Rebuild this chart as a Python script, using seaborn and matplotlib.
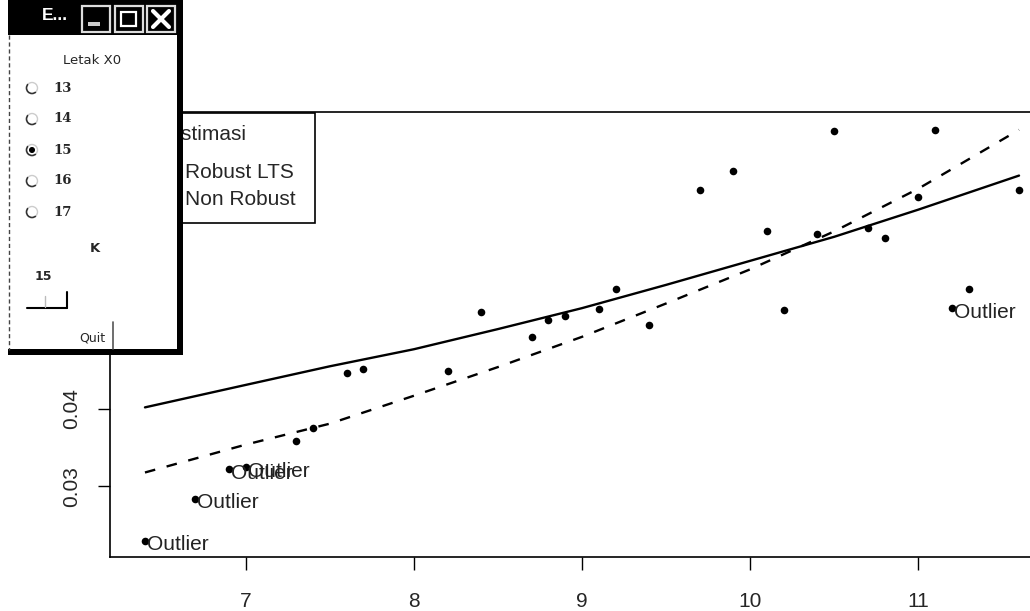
import matplotlib
matplotlib.use("Agg")
import matplotlib.pyplot as plt
import seaborn as sns
from matplotlib.patches import Rectangle, Circle, Arc
from matplotlib.lines import Line2D

# observed points
x_obs = [6.4, 6.7, 6.9, 7.0, 7.3, 7.4, 7.6, 7.7, 8.2, 8.4, 8.7, 8.8, 8.9, 9.1, 9.2,
         9.4, 9.7, 9.9, 10.1, 10.2, 10.4, 10.5, 10.7, 10.8, 11.0, 11.1, 11.2, 11.3, 11.6]
y_obs = [0.0230, 0.0284, 0.0322, 0.0325, 0.0359, 0.0375, 0.0446, 0.0452, 0.0449, 0.0525,
         0.0493, 0.0515, 0.0520, 0.0529, 0.0555, 0.0508, 0.0682, 0.0707, 0.0629, 0.0528,
         0.0626, 0.0759, 0.0633, 0.0620, 0.0674, 0.0760, 0.0530, 0.0555, 0.0682]
outlier_idx = [0, 1, 2, 3, 26]

# fitted curves
x_fit = [6.4, 7.0, 7.5, 8.0, 8.5, 9.0, 9.5, 10.0, 10.5, 11.0, 11.6]
y_lts = [0.0402, 0.0431, 0.0455, 0.0477, 0.0503, 0.0530, 0.0560, 0.0591, 0.0622, 0.0657, 0.0701]
y_ols = [0.0318, 0.0354, 0.0381, 0.0417, 0.0454, 0.0493, 0.0536, 0.0580, 0.0629, 0.0684, 0.0760]

legend_title = "Estimasi"
legend_labels = ["Robust LTS", "Non Robust"]

# little control window on top
win_title = "E..."
radio_label = "Letak X0"
radio_opts = ["13", "14", "15", "16", "17"]
radio_sel = "15"
slider_label = "K"
slider_val = "15"

sns.set_style("white")
plt.rcParams["font.family"] = ["Liberation Sans", "DejaVu Sans"]

W, H = 1030, 611
fig = plt.figure(figsize=(W / 100, H / 100), dpi=100)
ax = fig.add_axes([110 / W, (H - 557) / H, (1054 - 110) / W, (557 - 112) / H])

sns.lineplot(x=x_fit, y=y_lts, color="black", lw=1.7, ax=ax)
sns.lineplot(x=x_fit, y=y_ols, color="black", lw=1.7, linestyle=(0, (4.5, 5)), ax=ax)
sns.scatterplot(x=x_obs, y=y_obs, color="black", s=30, linewidth=0, ax=ax, zorder=3)

for i in outlier_idx:
    ax.annotate("Outlier", (x_obs[i], y_obs[i]), xytext=(1.5, -6.8),
                textcoords="offset points", ha="left", va="baseline",
                fontsize=15, color="#222222")

ax.set_xlim(6.192, 11.808)
ax.set_ylim(0.0209, 0.0783)
ax.set_xticks([7, 8, 9, 10, 11])
ax.set_xticklabels(["7", "8", "9", "10", "11"], fontsize=15)
ax.set_yticks([0.03, 0.04, 0.05, 0.06, 0.07])
ax.set_yticklabels(["0.03", "0.04", "0.05", "0.06", "0.07"], fontsize=15,
                   rotation=90, va="center")
ax.tick_params(axis="x", length=9, width=1, pad=16.5, color="black", bottom=True)
ax.tick_params(axis="y", length=9, width=1, pad=12, color="black", left=True)
for side in ["left", "bottom", "top"]:
    ax.spines[side].set_color("black")
    ax.spines[side].set_linewidth(1.2)
ax.spines["right"].set_visible(False)
ax.set_xlabel("")
ax.set_ylabel("")

# overlay in pixel coordinates
ov = fig.add_axes([0, 0, 1, 1])
ov.set_xlim(0, W)
ov.set_ylim(H, 0)
ov.axis("off")
ov.patch.set_alpha(0)

# legend box (below the window)
ov.add_patch(Rectangle((110, 113), 205, 110, facecolor="white", edgecolor="black",
                       lw=1.2, zorder=1))
ov.text(207, 140, legend_title, ha="center", va="baseline", fontsize=15, zorder=2)
ov.text(185, 178, legend_labels[0], ha="left", va="baseline", fontsize=15, zorder=2)
ov.text(185, 205, legend_labels[1], ha="left", va="baseline", fontsize=15, zorder=2)
ov.add_line(Line2D([125, 170], [172, 172], color="black", lw=1.7, zorder=2))
ov.add_line(Line2D([125, 170], [198, 198], color="black", lw=1.7,
                   linestyle=(0, (4.5, 5)), zorder=2))

# window
Z = 10
ov.add_patch(Rectangle((8, 0), 175, 355, facecolor="white", edgecolor="none", zorder=Z))
ov.add_patch(Rectangle((8, 0), 175, 35, facecolor="black", edgecolor="none", zorder=Z))
ov.add_patch(Rectangle((177, 0), 6, 355, facecolor="black", edgecolor="none", zorder=Z))
ov.add_patch(Rectangle((8, 349), 175, 6, facecolor="black", edgecolor="none", zorder=Z))
ov.add_line(Line2D([8.5, 8.5], [35, 350], color="#444444", lw=1,
                   linestyle=(0, (3, 2)), zorder=Z + 1))
ov.text(42, 15, win_title, ha="left", va="center", fontsize=12.5, color="white",
        fontweight="bold", zorder=Z + 2)
for bx in [82, 115, 147]:
    ov.add_patch(Rectangle((bx, 6), 28, 26, facecolor="black", edgecolor="#dddddd",
                           lw=1.6, zorder=Z + 1))
ov.add_patch(Rectangle((88, 22), 12, 4, facecolor="#cccccc", edgecolor="none", zorder=Z + 2))
ov.add_patch(Rectangle((121, 12), 15, 14, facecolor="none", edgecolor="white", lw=1.6,
                       zorder=Z + 2))
ov.add_line(Line2D([153, 169], [11, 27], color="white", lw=3, zorder=Z + 2))
ov.add_line(Line2D([153, 169], [27, 11], color="white", lw=3, zorder=Z + 2))

ov.text(92, 61, radio_label, ha="center", va="center", fontsize=9.5,
        family="DejaVu Sans", zorder=Z + 2)
for i, opt in enumerate(radio_opts):
    cy = 88 + 31 * i
    ov.add_patch(Arc((32, cy), 11, 11, theta1=45, theta2=225, color="#333333", lw=1.2,
                     zorder=Z + 1))
    ov.add_patch(Arc((32, cy), 11, 11, theta1=225, theta2=405, color="#cccccc", lw=1.0,
                     zorder=Z + 1))
    if opt == radio_sel:
        ov.add_patch(Circle((32, cy), 2.3, color="black", zorder=Z + 2))
    ov.text(53, cy, opt, ha="left", va="center", fontsize=9.5, fontweight="bold",
            family="DejaVu Serif", zorder=Z + 2)

ov.text(95, 248, slider_label, ha="center", va="center", fontsize=9.5, fontweight="bold",
        family="DejaVu Sans", zorder=Z + 2)
ov.text(43, 277, slider_val, ha="center", va="center", fontsize=9, fontweight="bold",
        family="DejaVu Sans", zorder=Z + 2)
ov.add_line(Line2D([27, 67], [308, 308], color="black", lw=1.5, zorder=Z + 1))
ov.add_line(Line2D([67, 67], [292, 308], color="black", lw=1.5, zorder=Z + 1))
ov.add_line(Line2D([45, 45], [296, 307], color="#bbbbbb", lw=1, zorder=Z + 1))
ov.text(92, 338, "Quit", ha="center", va="center", fontsize=9, family="DejaVu Sans",
        zorder=Z + 2)
ov.add_line(Line2D([113, 113], [322, 349], color="#555555", lw=1.2, zorder=Z + 1))

fig.savefig("out.png", dpi=100)
